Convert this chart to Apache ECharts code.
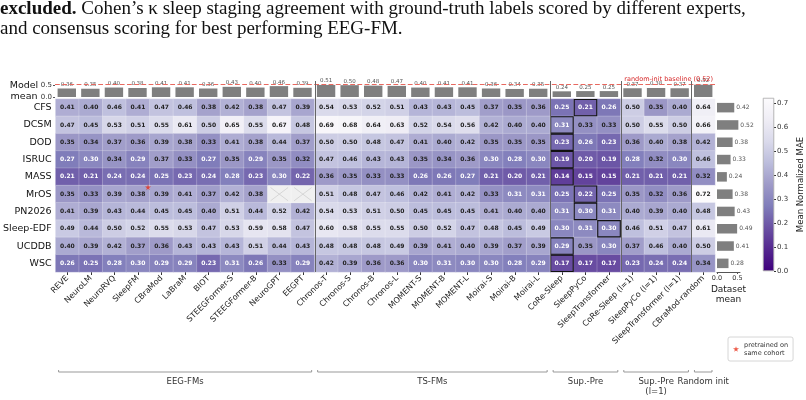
<!DOCTYPE html>
<html>
<head>
<meta charset="utf-8">
<script src="https://cdn.jsdelivr.net/npm/echarts@6/dist/echarts.min.js"></script>
<style>
  html, body { margin: 0; padding: 0; background: #fff; }
  #main { width: 806px; height: 400px; }
</style>
</head>
<body>
<div id="main"></div>
<script>
// columns (models) and rows (datasets)
var models = ['REVE', 'NeuroLM', 'NeuroRVQ', 'SleepFM', 'CBraMod', 'LaBraM', 'BIOT', 'STEEGFormer-S', 'STEEGFormer-B', 'NeuroGPT', 'EEGPT',
  'Chronos-T', 'Chronos-S', 'Chronos-B', 'Chronos-L', 'MOMENT-S', 'MOMENT-B', 'MOMENT-L', 'Moirai-S', 'Moirai-B', 'Moirai-L',
  'CoRe-Sleep', 'SleepPyCo', 'SleepTransformer', 'CoRe-Sleep (l=1)', 'SleepPyCo (l=1)', 'SleepTransformer (l=1)', 'CBraMod-random'];
var datasets = ['CFS', 'DCSM', 'DOD', 'ISRUC', 'MASS', 'MrOS', 'PN2026', 'Sleep-EDF', 'UCDDB', 'WSC'];

// one row per dataset, one value per model (null = not evaluated)
var rowCFS = [0.41, 0.40, 0.46, 0.41, 0.47, 0.46, 0.38, 0.42, 0.38, 0.47, 0.39, 0.54, 0.53, 0.52, 0.51, 0.43, 0.43, 0.45, 0.37, 0.35, 0.36, 0.25, 0.21, 0.26, 0.50, 0.35, 0.40, 0.64];
var rowDCSM = [0.47, 0.45, 0.53, 0.51, 0.55, 0.61, 0.50, 0.65, 0.55, 0.67, 0.48, 0.69, 0.68, 0.64, 0.63, 0.52, 0.54, 0.56, 0.42, 0.40, 0.40, 0.31, 0.33, 0.33, 0.50, 0.55, 0.50, 0.66];
var rowDOD = [0.35, 0.34, 0.37, 0.36, 0.39, 0.38, 0.33, 0.41, 0.38, 0.44, 0.37, 0.50, 0.50, 0.48, 0.47, 0.41, 0.40, 0.42, 0.35, 0.35, 0.35, 0.23, 0.26, 0.23, 0.36, 0.40, 0.38, 0.42];
var rowISRUC = [0.27, 0.30, 0.34, 0.29, 0.37, 0.33, 0.27, 0.35, 0.29, 0.35, 0.32, 0.47, 0.46, 0.43, 0.43, 0.35, 0.34, 0.36, 0.30, 0.28, 0.30, 0.19, 0.20, 0.19, 0.28, 0.32, 0.30, 0.46];
var rowMASS = [0.21, 0.21, 0.24, 0.24, 0.25, 0.23, 0.24, 0.28, 0.23, 0.30, 0.22, 0.36, 0.35, 0.33, 0.33, 0.26, 0.26, 0.27, 0.21, 0.20, 0.21, 0.14, 0.15, 0.15, 0.21, 0.21, 0.21, 0.32];
var rowMrOS = [0.35, 0.33, 0.39, 0.38, 0.39, 0.41, 0.37, 0.42, 0.38, null, null, 0.51, 0.48, 0.47, 0.46, 0.42, 0.41, 0.42, 0.33, 0.31, 0.31, 0.25, 0.22, 0.25, 0.35, 0.32, 0.36, 0.72];
var rowPN2026 = [0.41, 0.39, 0.43, 0.44, 0.45, 0.45, 0.40, 0.51, 0.44, 0.52, 0.42, 0.54, 0.53, 0.51, 0.50, 0.45, 0.45, 0.45, 0.41, 0.40, 0.40, 0.31, 0.30, 0.31, 0.40, 0.39, 0.40, 0.48];
var rowSleepEDF = [0.49, 0.44, 0.50, 0.52, 0.55, 0.53, 0.47, 0.53, 0.59, 0.58, 0.47, 0.60, 0.58, 0.55, 0.55, 0.50, 0.52, 0.47, 0.48, 0.45, 0.49, 0.30, 0.31, 0.30, 0.46, 0.51, 0.47, 0.61];
var rowUCDDB = [0.40, 0.39, 0.42, 0.37, 0.36, 0.43, 0.43, 0.43, 0.51, 0.44, 0.43, 0.48, 0.48, 0.48, 0.49, 0.39, 0.41, 0.40, 0.39, 0.37, 0.39, 0.29, 0.35, 0.30, 0.37, 0.46, 0.40, 0.50];
var rowWSC = [0.26, 0.25, 0.28, 0.30, 0.29, 0.29, 0.23, 0.31, 0.26, 0.33, 0.29, 0.42, 0.39, 0.36, 0.36, 0.30, 0.31, 0.30, 0.30, 0.28, 0.29, 0.17, 0.17, 0.17, 0.23, 0.24, 0.24, 0.34];
var rows = [rowCFS, rowDCSM, rowDOD, rowISRUC, rowMASS, rowMrOS, rowPN2026, rowSleepEDF, rowUCDDB, rowWSC];

var modelMean = [0.36, 0.35, 0.40, 0.38, 0.41, 0.41, 0.36, 0.43, 0.40, 0.46, 0.39, 0.51, 0.50, 0.48, 0.47, 0.40, 0.41, 0.41, 0.36, 0.34, 0.35, 0.24, 0.25, 0.25, 0.37, 0.38, 0.37, 0.52];
var datasetMean = [0.42, 0.52, 0.38, 0.33, 0.24, 0.38, 0.43, 0.49, 0.41, 0.28];
var baseline = 0.52;

// best (boxed) model per dataset row
var bestCol = [22, 21, 21, 21, 21, 22, 22, 23, 21, 21];
// [model, dataset] pretrained on same cohort
var pretrained = [[3, 5]];
// group boundaries: first column of each following group
var separators = [11, 21, 24, 27];
var groups = [
  { name: 'EEG-FMs', from: 0, to: 10 },
  { name: 'TS-FMs', from: 11, to: 20 },
  { name: 'Sup.-Pre', from: 21, to: 23 },
  { name: 'Sup.-Pre\n(l=1)', from: 24, to: 26 },
  { name: 'Random init', from: 27, to: 27 }
];
var cmax = 0.72;

var purples = ['#3f007d', '#54278f', '#6a51a3', '#807dba', '#9e9ac8', '#bcbddc', '#dadaeb', '#efedf5', '#fcfbfd'];
var font = 'DejaVu Sans';
var starPath = 'path://M50,0 L61,35 L98,35 L68,57 L79,91 L50,70 L21,91 L32,57 L2,35 L39,35 Z';

var heatData = [];
var overlay = [];
rows.forEach(function(r, j) {
  r.forEach(function(v, i) {
    if (v === null) {
      heatData.push([i, j, '-']);
      overlay.push([i, j, 0]);
    } else {
      heatData.push({
        value: [i, j, v],
        label: { color: v <= 0.31 ? '#fff' : '#222' }
      });
    }
  });
  overlay.push([bestCol[j], j, 1]);
});

var myChart = echarts.init(document.getElementById('main'));

var option = {
  backgroundColor: '#fff',
  animation: false,
  textStyle: { fontFamily: font },
  grid: [
    { left: 55, top: 99, width: 660, height: 173 },
    { left: 55, top: 84, width: 660, height: 13 },
    { left: 717, top: 99, width: 23, height: 173 },
    { left: 763, top: 98, width: 11, height: 173 }
  ],
  xAxis: [{
    type: 'category', gridIndex: 0, data: models,
    axisLine: { show: false },
    axisTick: { show: true, alignWithLabel: true, length: 3, lineStyle: { color: '#333' } },
    axisLabel: { rotate: 45, interval: 0, fontSize: 8, color: '#222', margin: 5 },
    splitLine: { show: false }
  }, {
    type: 'category', gridIndex: 1, data: models, show: false
  }, {
    type: 'value', gridIndex: 2, min: 0, max: 0.56, interval: 0.5,
    axisLine: { show: true, lineStyle: { color: '#555' } },
    axisTick: { show: true, length: 2 },
    axisLabel: { fontSize: 6.5, color: '#333', margin: 3, showMaxLabel: false,
      formatter: function(v) { return v.toFixed(1); } },
    splitLine: { show: false },
    name: 'Dataset\nmean', nameLocation: 'middle', nameGap: 13,
    nameTextStyle: { fontSize: 9, color: '#222', lineHeight: 10, verticalAlign: 'top' }
  }, {
    type: 'category', gridIndex: 3, data: [''], show: false
  }],
  yAxis: [{
    type: 'category', gridIndex: 0, data: datasets, inverse: true,
    axisLine: { show: false },
    axisTick: { show: false },
    axisLabel: { fontSize: 9.5, color: '#111', margin: 4 },
    splitLine: { show: false }
  }, {
    type: 'value', gridIndex: 1, min: 0, max: 0.55, interval: 0.5,
    axisLine: { show: false },
    axisTick: { show: true, length: 2 },
    axisLabel: { fontSize: 7, color: '#333', margin: 3, showMaxLabel: false,
      formatter: function(v) { return v.toFixed(1); } },
    splitLine: { show: false }
  }, {
    type: 'category', gridIndex: 2, data: datasets, inverse: true, show: false
  }, {
    type: 'value', gridIndex: 3, min: 0, max: cmax, interval: 0.1, position: 'right',
    axisLine: { show: false },
    axisTick: { show: true, length: 2, lineStyle: { color: '#333' } },
    axisLabel: { fontSize: 7, color: '#333', margin: 3, showMaxLabel: false,
      formatter: function(v) { return v.toFixed(1); } },
    splitLine: { show: false },
    name: 'Mean Normalized MAE', nameLocation: 'middle', nameGap: 22,
    nameTextStyle: { fontSize: 8.5, color: '#222' }
  }],
  visualMap: {
    show: false, type: 'continuous', min: 0, max: cmax, seriesIndex: 0,
    inRange: { color: purples }
  },
  legend: {
    orient: 'vertical', left: 728, top: 337,
    itemWidth: 6, itemHeight: 6, itemGap: 2,
    padding: [4, 5, 4, 5],
    borderColor: '#ccc', borderWidth: 0.8, borderRadius: 2,
    textStyle: { fontSize: 6.5, color: '#333', lineHeight: 8 },
    data: [{ name: 'pretrained on\nsame cohort', icon: starPath }]
  },
  series: [{
    type: 'heatmap', xAxisIndex: 0, yAxisIndex: 0,
    data: heatData,
    itemStyle: { borderColor: 'rgba(255,255,255,0.45)', borderWidth: 0.5 },
    label: {
      show: true, fontSize: 6, fontWeight: 'bold',
      formatter: function(p) { return p.value[2].toFixed(2); }
    },
    emphasis: { disabled: true }
  }, {
    type: 'custom', xAxisIndex: 0, yAxisIndex: 0, silent: true, z: 5,
    data: overlay,
    renderItem: function(params, api) {
      var c = api.coord([api.value(0), api.value(1)]);
      var s = api.size([1, 1]);
      var x = c[0] - s[0] / 2, y = c[1] - s[1] / 2;
      if (api.value(2) === 1) {
        return {
          type: 'rect',
          shape: { x: x + 0.5, y: y + 0.5, width: s[0] - 1, height: s[1] - 1 },
          style: { fill: 'none', stroke: '#111', lineWidth: 1.1 }
        };
      }
      return {
        type: 'group',
        children: [{
          type: 'rect', shape: { x: x, y: y, width: s[0], height: s[1] },
          style: { fill: '#f0f0f0', stroke: 'rgba(255,255,255,0.6)', lineWidth: 0.5 }
        }, {
          type: 'line', shape: { x1: x + 3, y1: y + 2, x2: x + s[0] - 3, y2: y + s[1] - 2 },
          style: { stroke: '#cfcfcf', lineWidth: 0.8 }
        }, {
          type: 'line', shape: { x1: x + 3, y1: y + s[1] - 2, x2: x + s[0] - 3, y2: y + 2 },
          style: { stroke: '#cfcfcf', lineWidth: 0.8 }
        }]
      };
    }
  }, {
    type: 'custom', xAxisIndex: 0, yAxisIndex: 0, silent: true, z: 6,
    data: separators.map(function(c) { return [c, 0]; }),
    renderItem: function(params, api) {
      var c = api.coord([api.value(0), 0]);
      var s = api.size([1, 1]);
      var x = Math.round(c[0] - s[0] / 2) + 0.5;
      var cs = params.coordSys;
      return {
        type: 'line',
        shape: { x1: x, y1: cs.y - 18, x2: x, y2: cs.y + cs.height },
        style: { stroke: '#666', lineWidth: 1 }
      };
    }
  }, {
    name: 'pretrained on\nsame cohort',
    type: 'scatter', xAxisIndex: 0, yAxisIndex: 0, z: 7,
    data: pretrained,
    symbol: starPath, symbolSize: 6, symbolOffset: [10, -7],
    itemStyle: { color: '#e8311a' }
  }, {
    type: 'bar', xAxisIndex: 1, yAxisIndex: 1,
    data: modelMean, barWidth: '78%',
    itemStyle: { color: '#7f7f7f' },
    label: { show: true, position: 'top', distance: 1, fontSize: 5.5, color: '#555',
      formatter: function(p) { return p.value.toFixed(2); } },
    markLine: {
      silent: true, symbol: 'none',
      lineStyle: { type: 'dashed', color: '#e8685f', width: 1.2 },
      label: { show: true, position: 'insideEndTop', distance: 2, fontSize: 6.5, color: '#d62728',
        formatter: 'random-init baseline (' + baseline.toFixed(2) + ')' },
      data: [{ yAxis: baseline }]
    }
  }, {
    type: 'bar', xAxisIndex: 2, yAxisIndex: 2,
    data: datasetMean, barWidth: '55%',
    itemStyle: { color: '#7f7f7f' },
    label: { show: true, position: 'right', distance: 2, fontSize: 6, color: '#555',
      formatter: function(p) { return p.value.toFixed(2); } }
  }, {
    type: 'bar', xAxisIndex: 3, yAxisIndex: 3, silent: true,
    data: [cmax], barWidth: '100%',
    itemStyle: {
      color: new echarts.graphic.LinearGradient(0, 0, 0, 1, purples.slice().reverse().map(function(col, k) {
        return { offset: k / (purples.length - 1), color: col };
      })),
      borderColor: '#aaa', borderWidth: 0.5
    }
  }]
};

myChart.setOption(option);

// caption, row header and group brackets
var graphics = [{
  type: 'text', left: 0, top: 0,
  style: {
    text: '{b|excluded.} Cohen\u2019s \u03ba sleep staging agreement with ground-truth labels scored by different experts,',
    fontFamily: 'Liberation Serif', fontSize: 19, fill: '#111',
    rich: { b: { fontWeight: 'bold', fontFamily: 'Liberation Serif', fontSize: 19 } }
  }
}, {
  type: 'text', left: 0, top: 20,
  style: { text: 'and consensus scoring for best performing EEG-FM.', fontFamily: 'Liberation Serif', fontSize: 19, fill: '#111' }
}, {
  type: 'text', x: 24, y: 91,
  style: { text: 'Model\nmean', fontSize: 9.5, fill: '#111', align: 'center', verticalAlign: 'middle', lineHeight: 11, fontFamily: font }
}];

groups.forEach(function(g) {
  var half = myChart.convertToPixel({ xAxisIndex: 0 }, 1) - myChart.convertToPixel({ xAxisIndex: 0 }, 0);
  var x1 = myChart.convertToPixel({ xAxisIndex: 0 }, g.from) - half / 2 + 3;
  var x2 = myChart.convertToPixel({ xAxisIndex: 0 }, g.to) + half / 2 - 3;
  graphics.push({
    type: 'polyline',
    shape: { points: [[x1, 370], [x1, 372], [x2, 372], [x2, 370]] },
    style: { stroke: '#999', lineWidth: 1, fill: 'none' }
  });
  graphics.push({
    type: 'text', x: (x1 + x2) / 2, y: 377,
    style: { text: g.name, fontSize: 8.5, fill: '#333', align: 'center', verticalAlign: 'top', lineHeight: 10, fontFamily: font }
  });
});

myChart.setOption({ graphic: graphics });
</script>
</body>
</html>
